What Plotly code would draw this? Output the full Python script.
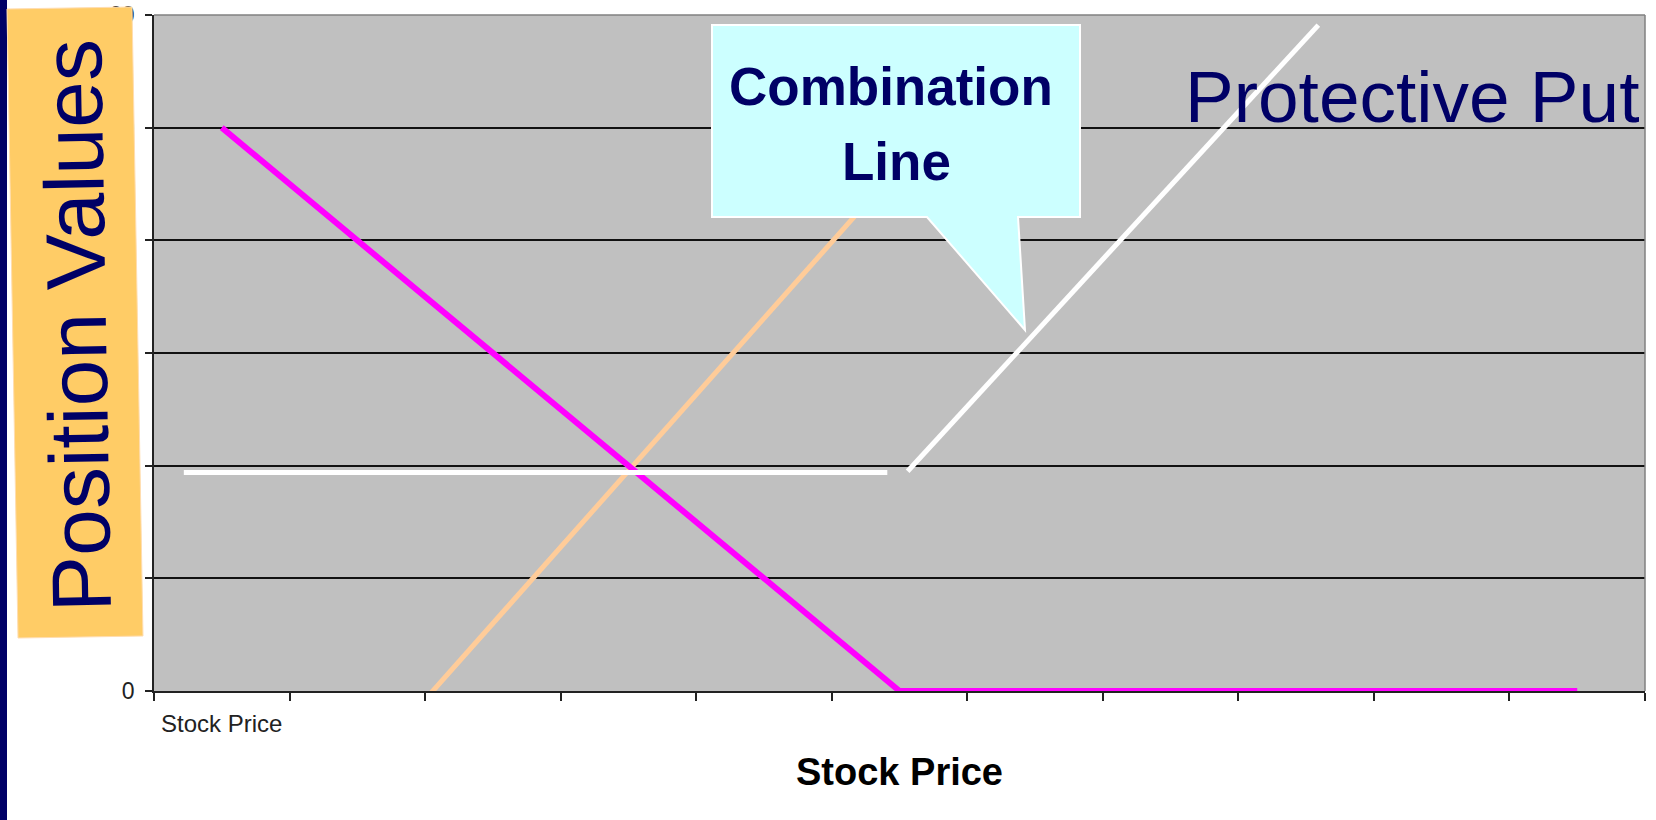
import plotly.graph_objects as go

# ---------------- data ----------------
categories = ["Stock Price", "", "", "", "", "", "", "", "", "", ""]
cat_pos = list(range(len(categories)))
boundaries = [i - 0.5 for i in range(len(categories) + 1)]

put_x = [0, 5, 10]
put_y = [50, 0, 0]

stock_x = [1.52, 5.25]
stock_y = [-0.5, 50]

combo_flat_x = [-0.28, 4.91]
combo_flat_y = [19.4, 19.4]

combo_rise_x = [5.06, 8.09]
combo_rise_y = [19.5, 59.1]

y_ticks = [0, 10, 20, 30, 40, 50, 60]

# ---------------- geometry helpers (pixel -> paper) ----------------
W_FIG, H_FIG = 1656, 820
L, R, T, B = 154, 1645, 15, 691
PW, PH = R - L, B - T


def px(x):
    return (x - L) / PW


def py(y):
    return (B - y) / PH


NAVY = "#000066"

fig = go.Figure()
fig.add_trace(go.Scatter(x=stock_x, y=stock_y, mode="lines",
                         line=dict(color="#FFCC99", width=5), hoverinfo="skip"))
fig.add_trace(go.Scatter(x=put_x, y=put_y, mode="lines",
                         line=dict(color="#FF00FF", width=6), hoverinfo="skip"))
fig.add_trace(go.Scatter(x=combo_flat_x, y=combo_flat_y, mode="lines",
                         line=dict(color="#FFFFFF", width=5), hoverinfo="skip"))
fig.add_trace(go.Scatter(x=combo_rise_x, y=combo_rise_y, mode="lines",
                         line=dict(color="#FFFFFF", width=5), hoverinfo="skip"))

shapes = []
# gray border top/right
shapes.append(dict(type="line", xref="paper", yref="paper", x0=0, x1=1, y0=1, y1=1,
                   line=dict(color="#808080", width=1.5), layer="above"))
shapes.append(dict(type="line", xref="paper", yref="paper", x0=1, x1=1, y0=0, y1=1,
                   line=dict(color="#808080", width=1.5), layer="above"))
# dark strip on the left
shapes.append(dict(type="rect", xref="paper", yref="paper",
                   x0=px(0), x1=px(7), y0=py(0), y1=py(820),
                   fillcolor=NAVY, line=dict(width=0), layer="above"))
# tilted orange label box
box = [(7, 9), (132, 7), (143, 636), (18, 638)]
path = "M " + " L ".join(f"{px(a):.5f},{py(b):.5f}" for a, b in box) + " Z"
shapes.append(dict(type="path", xref="paper", yref="paper", path=path,
                   fillcolor="#FFCC66", line=dict(color="#FFDDB0", width=1), layer="above"))
# callout
callout = [(712, 25), (1080, 25), (1080, 217), (1018, 217), (1025, 330), (927, 217), (712, 217)]
path2 = "M " + " L ".join(f"{px(a):.5f},{py(b):.5f}" for a, b in callout) + " Z"
shapes.append(dict(type="path", xref="paper", yref="paper", path=path2,
                   fillcolor="#CCFFFF", line=dict(color="#FFFFFF", width=2), layer="above"))

annotations = [
    dict(text="Position Values", xref="paper", yref="paper", x=px(77), y=py(326),
         xanchor="center", yanchor="middle", textangle=-91, showarrow=False,
         font=dict(family="Liberation Sans, Arial", size=84, color=NAVY)),
    dict(text="Protective Put", xref="paper", yref="paper", x=px(1412), y=py(97),
         xanchor="center", yanchor="middle", showarrow=False,
         font=dict(family="Liberation Sans, Arial", size=73, color=NAVY)),
    dict(text="<b>Combination</b>", xref="paper", yref="paper",
         x=px(891), y=py(87), xanchor="center", yanchor="middle", showarrow=False,
         font=dict(family="Liberation Sans, Arial", size=53, color=NAVY)),
    dict(text="<b>Line</b>", xref="paper", yref="paper",
         x=px(896), y=py(161), xanchor="center", yanchor="middle", showarrow=False,
         font=dict(family="Liberation Sans, Arial", size=53, color=NAVY)),
]

fig.update_layout(
    width=W_FIG, height=H_FIG,
    margin=dict(l=L, r=W_FIG - R, t=T, b=H_FIG - B, pad=0, autoexpand=False),
    paper_bgcolor="#FFFFFF", plot_bgcolor="#C0C0C0",
    showlegend=False,
    shapes=shapes, annotations=annotations,
    xaxis=dict(range=[-0.5, 10.5], tickvals=cat_pos, ticktext=categories, ticks="",
               automargin=False,
               showgrid=False, zeroline=False, showline=True, linecolor="#222222", linewidth=1.5,
               minor=dict(tickvals=boundaries, ticks="outside", ticklen=8, tickcolor="#222222",
                          tickwidth=1.5, showgrid=False),
               ticklabelstandoff=10,
               tickfont=dict(family="Liberation Sans, Arial", size=24, color="#222222"),
               title=dict(text="<b>Stock Price</b>", standoff=23,
                          font=dict(family="Liberation Sans, Arial", size=38, color="#000000")),
               fixedrange=True),
    yaxis=dict(range=[0, 60], tickvals=y_ticks, ticks="outside", ticklen=7, tickcolor="#222222",
               automargin=False,
               tickwidth=1.5, showgrid=True, gridcolor="#111111", gridwidth=1.5,
               zeroline=False, showline=True, linecolor="#222222", linewidth=1.5,
               ticklabelstandoff=6,
               tickfont=dict(family="Liberation Sans, Arial", size=23, color="#222222"),
               fixedrange=True),
)

fig.write_html("out.html", config={"displayModeBar": False},
               post_script="document.body.style.margin='0';document.body.style.overflow='hidden';")
